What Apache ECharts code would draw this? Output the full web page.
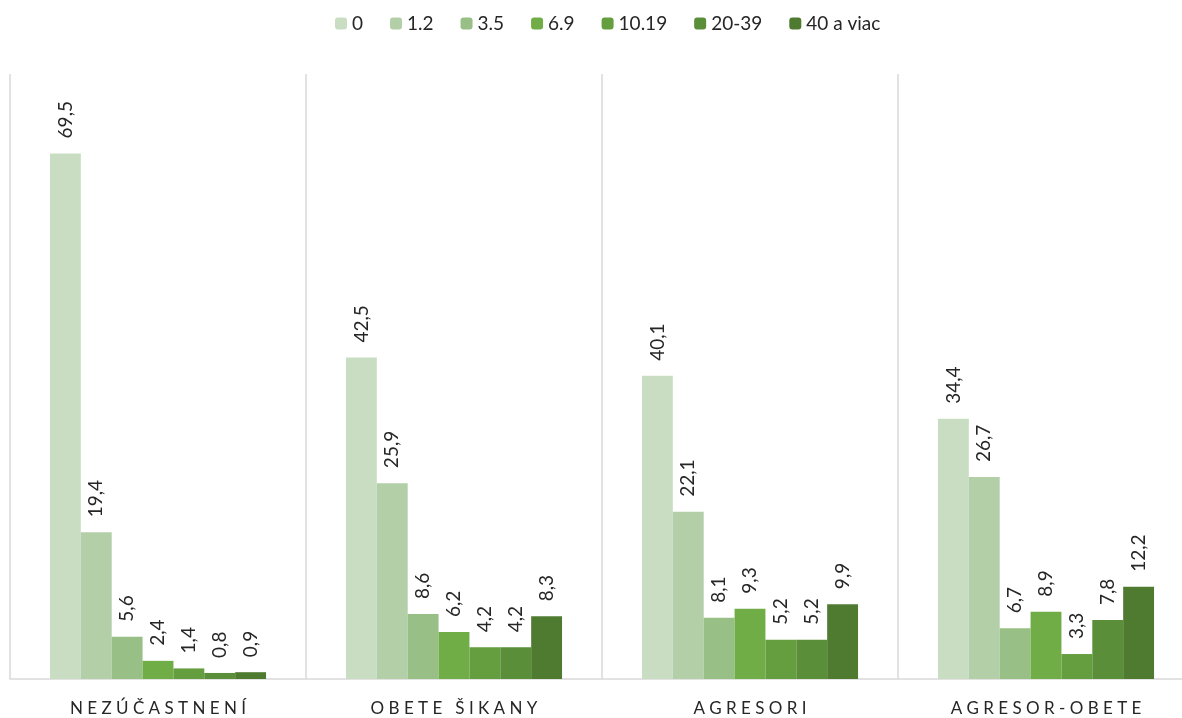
<!DOCTYPE html>
<html>
<head>
<meta charset="utf-8">
<script src="https://cdn.jsdelivr.net/npm/echarts@6/dist/echarts.min.js"></script>
<style>
  html, body { margin: 0; padding: 0; background: #fff; }
  #chart { width: 1182px; height: 718px; }
</style>
</head>
<body>
<div id="chart"></div>
<script>
var categories = ['NEZÚČASTNENÍ', 'OBETE ŠIKANY', 'AGRESORI', 'AGRESOR-OBETE'];
var seriesNames = ['0', '1.2', '3.5', '6.9', '10.19', '20-39', '40 a viac'];
var colors = ['#c9ddc3', '#b3cfa8', '#98bf85', '#70ad47', '#659e3f', '#5a8e38', '#4f7b30'];

var s0 = [69.5, 42.5, 40.1, 34.4];
var s1 = [19.4, 25.9, 22.1, 26.7];
var s2 = [5.6, 8.6, 8.1, 6.7];
var s3 = [2.4, 6.2, 9.3, 8.9];
var s4 = [1.4, 4.2, 5.2, 3.3];
var s5 = [0.8, 4.2, 5.2, 7.8];
var s6 = [0.9, 8.3, 9.9, 12.2];
var values = [s0, s1, s2, s3, s4, s5, s6];

var font = 'Lato, "Liberation Sans", sans-serif';

var chart = echarts.init(document.getElementById('chart'));

var series = seriesNames.map(function (name, i) {
    return {
        name: name,
        type: 'bar',
        data: values[i],
        barGap: '0%',
        barCategoryGap: '27%',
        itemStyle: { color: colors[i] },
        label: {
            show: true,
            position: 'top',
            rotate: 90,
            align: 'left',
            verticalAlign: 'middle',
            distance: 15,
            fontFamily: font,
            fontSize: 19,
            color: '#262626',
            formatter: function (p) {
                return String(p.value).replace('.', ',');
            }
        }
    };
});

var option = {
    color: colors,
    animation: false,
    legend: {
        top: 9,
        left: 330,
        itemWidth: 12,
        itemHeight: 12,
        itemGap: 27,
        textStyle: { fontFamily: font, fontSize: 19, color: '#262626' },
        data: seriesNames
    },
    grid: { left: 10, right: -12, top: 74, bottom: 39, outerBoundsMode: 'none' },
    xAxis: {
        type: 'category',
        data: categories,
        axisLine: { lineStyle: { color: '#d9d9d9', width: 1.5 } },
        axisTick: { show: false },
        splitLine: { show: true, lineStyle: { color: '#d9d9d9', width: 1.5 } },
        axisLabel: {
            margin: 21,
            fontFamily: font,
            fontSize: 17,
            color: '#262626',
            formatter: function (v) {
                return v.split('').join(' ');
            }
        }
    },
    yAxis: {
        type: 'value',
        min: 0,
        max: 80,
        show: false,
        splitLine: { show: false }
    },
    series: series
};

chart.setOption(option);
</script>
</body>
</html>
